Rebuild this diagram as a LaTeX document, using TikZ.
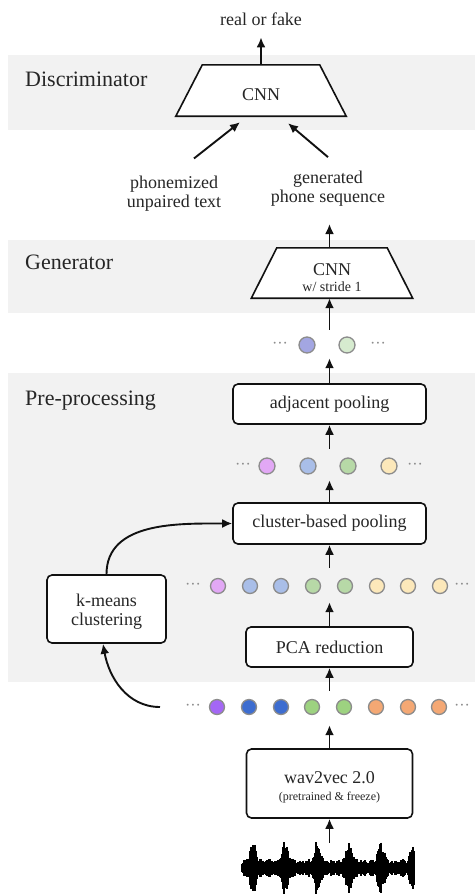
\documentclass[tikz,border=0pt]{standalone}
\usepackage{fontspec}
\setmainfont{Liberation Serif}
\usetikzlibrary{arrows.meta}
\definecolor{band}{HTML}{F2F2F2}
\definecolor{txt}{HTML}{262626}
\definecolor{ln}{HTML}{111111}
\definecolor{dotgray}{HTML}{8C8C8C}
\definecolor{cA}{HTML}{A3A6E2}
\definecolor{cB}{HTML}{D6EBCF}
\definecolor{vio}{HTML}{E2A8F5}
\definecolor{lblue}{HTML}{A9BEE8}
\definecolor{lgreen}{HTML}{B7D9A7}
\definecolor{lyel}{HTML}{FCE8BA}
\definecolor{purp}{HTML}{A467F5}
\definecolor{dblue}{HTML}{3D6DD0}
\definecolor{mgreen}{HTML}{9DD280}
\definecolor{orng}{HTML}{F4A874}
\begin{document}
\begin{tikzpicture}[x=1pt,y=-1pt,
  box/.style={draw=ln, line width=1.6pt, rounded corners=5pt, fill=white, inner sep=0pt,
    font=\fontsize{18}{19}\selectfont, text=txt, align=center},
  arr/.style={draw=ln, line width=1.9pt, -{Latex[length=10pt,width=9pt]}},
  sect/.style={font=\fontsize{22}{26}\selectfont, text=txt, anchor=base west, inner sep=0pt},
  lbl/.style={font=\fontsize{18}{19}\selectfont, text=txt, inner sep=0pt, align=center},
  dotc/.style={circle, draw=dotgray, line width=1.3pt, minimum size=15pt, inner sep=0pt},
  ell/.style={text=dotgray, font=\fontsize{16}{16}\selectfont, inner sep=0pt},
  rowbox/.style={minimum width=10pt, inner sep=0pt},
  shapebox/.style={inner sep=0pt},
  trap/.style={draw=ln, line width=1.6pt, fill=white, line join=miter}
]
\useasboundingbox (0,0) rectangle (475,895);
% bands
\fill[band] (8,55) rectangle (475,130);
\fill[band] (8,240) rectangle (475,313);
\fill[band] (8,373) rectangle (475,682);
% section labels
\node[sect] (sD) at (25,86) {Discriminator};
\node[sect] (sG) at (25,269) {Generator};
\node[sect] (sP) at (25,405) {Pre-processing};
% discriminator
\node[shapebox, minimum width=170pt, minimum height=51pt] (disc) at (261,90.5) {};
\draw[trap] ([xshift=26.5pt]disc.north west) -- ([xshift=-26.5pt]disc.north east) -- (disc.south east) -- (disc.south west) -- cycle;
\node[lbl, anchor=base] (discT) at (261,100.5) {CNN};
\node[lbl, anchor=base] (real) at (261,25) {real or fake};
% labels
\node[lbl] (phon) at (174,193.3) {phonemized\\unpaired text};
\node[lbl] (glbl) at (328,189) {generated\\phone sequence};
% generator
\node[shapebox, minimum width=161pt, minimum height=50pt] (gen) at (332,273) {};
\draw[trap] ([xshift=25.5pt]gen.north west) -- ([xshift=-25.5pt]gen.north east) -- (gen.south east) -- (gen.south west) -- cycle;
\node[lbl, anchor=base] (genT) at (332,275) {CNN};
\node[lbl, anchor=base, font=\fontsize{14}{15}\selectfont] (genS) at (332,291.5) {w/ stride 1};
\coordinate (gtip) at (329.5,224);
% boxes
\node[box, minimum width=193pt, minimum height=40pt] (adj) at (329.5,404) {adjacent pooling};
\node[box, minimum width=193pt, minimum height=41pt] (clus) at (329.5,523.5) {cluster-based pooling};
\node[box, minimum width=167pt, minimum height=40pt] (pca) at (329.5,647) {PCA reduction};
\node[box, minimum width=166pt, minimum height=69pt] (w2v) at (329.5,783.5) {};
\node[lbl, anchor=base] (w2vA) at (329.5,783) {wav2vec 2.0};
\node[lbl, anchor=base, font=\fontsize{12}{13}\selectfont] (w2vB) at (329.5,800) {(pretrained \& freeze)};
\node[box, minimum width=119pt, minimum height=68pt] (km) at (106.5,609) {};
\node[lbl, anchor=base] (kmA) at (106.5,606) {k-means};
\node[lbl, anchor=base] (kmB) at (106.5,625) {clustering};
% rows
\node[rowbox, minimum height=28pt] (row1) at (329.5,344) {};
\node[rowbox, minimum height=31pt] (row2) at (329.5,464.5) {};
\node[rowbox, minimum height=34pt] (row3) at (329.5,585) {};
\node[rowbox, minimum height=34pt] (row4) at (329.5,708) {};
% row 1 dots
\node[ell] (e1a) at (280,345) {···};
\node[dotc, minimum size=16pt, fill=cA] (d11) at (307,345) {};
\node[dotc, minimum size=16pt, fill=cB] (d12) at (347,345) {};
\node[ell] (e1b) at (378,345) {···};
% row 2
\node[ell] (e2a) at (243,466) {···};
\node[dotc, minimum size=16pt, fill=vio] (d21) at (267,466) {};
\node[dotc, minimum size=16pt, fill=lblue] (d22) at (308,466) {};
\node[dotc, minimum size=16pt, fill=lgreen] (d23) at (348,466) {};
\node[dotc, minimum size=16pt, fill=lyel] (d24) at (389,466) {};
\node[ell] (e2b) at (415,466) {···};
% row 3
\node[ell] (e3a) at (193,586) {···};
\node[dotc, fill=vio] (d31) at (218,586) {};
\node[dotc, fill=lblue] (d32) at (250,586) {};
\node[dotc, fill=lblue] (d33) at (281,586) {};
\node[dotc, fill=lgreen] (d34) at (313,586) {};
\node[dotc, fill=lgreen] (d35) at (345,586) {};
\node[dotc, fill=lyel] (d36) at (377,586) {};
\node[dotc, fill=lyel] (d37) at (408,586) {};
\node[dotc, fill=lyel] (d38) at (440,586) {};
\node[ell] (e3b) at (462,586) {···};
% row 4
\node[ell] (e4a) at (193,707) {···};
\node[dotc, fill=purp] (d41) at (217,707) {};
\node[dotc, fill=dblue] (d42) at (249,707) {};
\node[dotc, fill=dblue] (d43) at (281,707) {};
\node[dotc, fill=mgreen] (d44) at (312,707) {};
\node[dotc, fill=mgreen] (d45) at (344,707) {};
\node[dotc, fill=orng] (d46) at (376,707) {};
\node[dotc, fill=orng] (d47) at (408,707) {};
\node[dotc, fill=orng] (d48) at (439,707) {};
\node[ell] (e4b) at (462,707) {···};
\coordinate (k4) at (160,707);
% waveform
\node[shapebox, minimum width=173pt, minimum height=50pt] (wave) at (329.5,868) {};
\pgfmathsetseed{3}
\foreach \i in {0,...,172}{
  \pgfmathsetmacro\e{6+3*abs(sin(\i*23))+19*abs(sin((\i+5)*5.625))^12}
  \pgfmathsetmacro\a{\e*(0.55+0.45*rnd)}
  \draw[line width=1.2pt, black] (242+\i, 868-\a) -- (242+\i, 868+\a);
}
% arrows
\draw[arr] (wave.north) -- (w2v.south);
\draw[arr] (w2v.north) -- (row4.south);
\draw[arr] (row4.north) -- (pca.south);
\draw[arr] (pca.north) -- (row3.south);
\draw[arr] (row3.north) -- (clus.south);
\draw[arr] (clus.north) -- (row2.south);
\draw[arr] (row2.north) -- (adj.south);
\draw[arr] (adj.north) -- (row1.south);
\draw[arr] (row1.north) -- (row1.north |- gen.south);
\draw[arr] (row1.north |- gen.north) -- (gtip);
\draw[arr] ([xshift=20pt,yshift=17pt]phon.north) -- ([xshift=-21pt,yshift=-6pt]disc.south);
\draw[arr] ([yshift=14pt]glbl.north) -- ([xshift=27pt,yshift=-7pt]disc.south);
\draw[arr] (disc.north) -- ([yshift=-12pt]real.south);
\draw[arr] (km.north) to[out=90,in=180] (clus.west);
\draw[arr] (k4) to[out=180,in=-80] ([xshift=-3.5pt]km.south);
\end{tikzpicture}
\end{document}
